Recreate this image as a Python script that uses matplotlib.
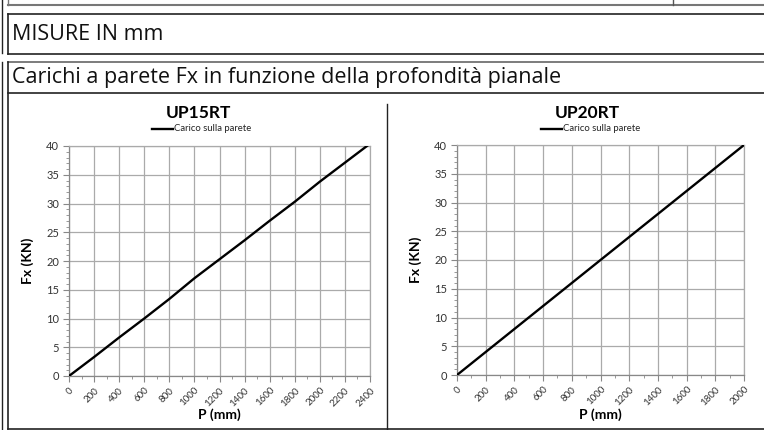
import matplotlib
matplotlib.use("Agg")
import matplotlib.pyplot as plt
from matplotlib.lines import Line2D
from matplotlib.ticker import MultipleLocator

W, H = 764, 430

header_text = "MISURE IN mm"
section_text = "Carichi a parete Fx in funzione della profondità pianale"
legend_label = "Carico sulla parete"
x_label = "P (mm)"
y_label = "Fx (KN)"

titles = ["UP15RT", "UP20RT"]
p_15 = [0, 200, 400, 600, 800, 1000, 1200, 1400, 1600, 1800, 2000, 2200, 2400]
fx_15 = [0, 3.3, 6.7, 10.0, 13.4, 17.0, 20.3, 23.6, 27.0, 30.3, 33.8, 37.1, 40.4]
p_20 = [0, 200, 400, 600, 800, 1000, 1200, 1400, 1600, 1800, 2000]
fx_20 = [0, 4, 8, 12, 16, 20, 24, 28, 32, 36, 40]
xmax = [2400, 2000]

fig = plt.figure(figsize=(W / 100, H / 100), dpi=100)
fig.patch.set_facecolor("white")


def fx(px):
    return px / W


def fy(py):
    return 1 - py / H


def hline(x0, x1, y, color="#222222", lw=1.2):
    fig.add_artist(Line2D([fx(x0), fx(x1)], [fy(y), fy(y)], color=color, lw=lw))


def vline(x, y0, y1, color="#222222", lw=1.2):
    fig.add_artist(Line2D([fx(x), fx(x)], [fy(y0), fy(y1)], color=color, lw=lw))


# frame lines
hline(8, 764, 4.5, color="#777777", lw=1.5)
vline(8, 0, 4.5, color="#777777", lw=1.0)
vline(673, 0, 4.5, color="#555555", lw=1.0)
vline(1.5, 0, 53, color="#222222", lw=1.0)
vline(1.5, 62, 430, color="#222222", lw=1.0)
# MISURE box
hline(8, 764, 13.5)
hline(8, 764, 54)
vline(8, 13.5, 54)
# section box
hline(8, 764, 62, color="#666666")
hline(8, 764, 92.5)
vline(8, 62, 429)
hline(8, 764, 428.5)
vline(386.5, 104, 428.5, color="#222222", lw=1.0)

fig.text(fx(12), fy(35), header_text, fontsize=15.5, family="Open Sans",
         va="center", ha="left", color="#111111")
fig.text(fx(12), fy(77), section_text, fontsize=15.5, family="Open Sans",
         va="center", ha="left", color="#111111")

plot_boxes = [(69, 370, 146, 376), (457, 744, 145, 375)]
title_centers = [198, 587]
datasets = [(p_15, fx_15), (p_20, fx_20)]
font = "Lato"

for i, ((x0, x1, y0, y1), (xs, ys)) in enumerate(zip(plot_boxes, datasets)):
    ax = fig.add_axes([fx(x0), fy(y1), (x1 - x0) / W, (y1 - y0) / H])
    ax.plot(xs, ys, color="black", lw=1.7, solid_capstyle="butt", zorder=3)
    ax.set_xlim(0, xmax[i])
    ax.set_ylim(0, 40)
    ax.xaxis.set_major_locator(MultipleLocator(200))
    ax.xaxis.set_minor_locator(MultipleLocator(100))
    ax.yaxis.set_major_locator(MultipleLocator(5))
    ax.yaxis.set_minor_locator(MultipleLocator(1))
    ax.grid(True, which="major", color="#aaaaaa", lw=0.9)
    ax.set_axisbelow(True)
    for s in ax.spines.values():
        s.set_color("#aaaaaa")
        s.set_linewidth(0.9)
    ax.spines["left"].set_color("#888888")
    ax.spines["bottom"].set_color("#888888")
    ax.tick_params(axis="both", which="major", length=4, color="#888888",
                   labelcolor="#333333", pad=3)
    ax.tick_params(axis="y", which="major", labelsize=8)
    ax.tick_params(axis="x", which="major", labelsize=7)
    ax.tick_params(axis="both", which="minor", length=2, color="#888888")
    for lab in ax.get_xticklabels():
        lab.set_rotation(45)
        lab.set_ha("right")
        lab.set_rotation_mode("anchor")
        lab.set_family(font)
    for lab in ax.get_yticklabels():
        lab.set_family(font)
    ax.set_xlabel(x_label, fontsize=10, fontweight="bold", family=font)
    ax.xaxis.set_label_coords(0.5, -(408 - y1) / (y1 - y0))
    ax.set_ylabel(y_label, fontsize=10, fontweight="bold", family=font, labelpad=9)
    cx = title_centers[i]
    fig.text(fx(cx), fy(113), titles[i], fontsize=12.5, fontweight="bold",
             family=font, ha="center", va="center")
    # legend
    lx = cx - 46
    fig.add_artist(Line2D([fx(lx), fx(lx + 21)], [fy(128.5), fy(128.5)],
                          color="black", lw=1.7))
    fig.text(fx(lx + 22), fy(128.5), legend_label, fontsize=6.8, family=font,
             ha="left", va="center", color="#222222")

fig.savefig("out.png", dpi=100, facecolor="white")
